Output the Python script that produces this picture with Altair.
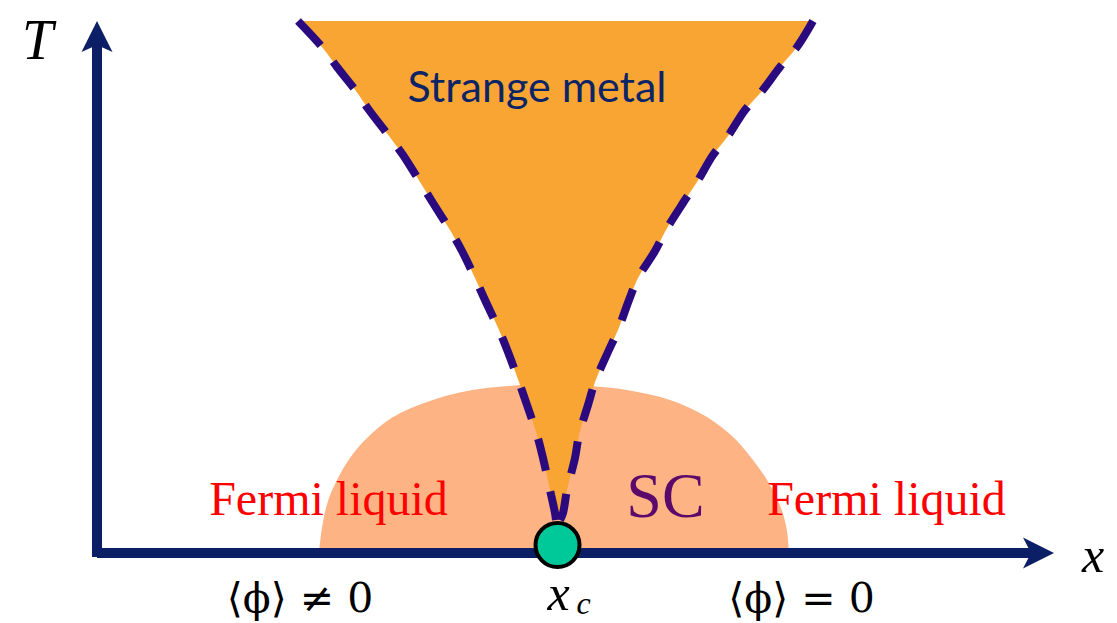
import altair as alt
import pandas as pd

# Schematic phase diagram, arbitrary units: x = tuning parameter, T = temperature
# Strange-metal fan: boundaries at common temperature levels
fan_T = [532, 506, 486, 462, 443, 417, 398, 371, 350, 323, 302, 275, 253, 223, 201, 171, 148, 118, 95, 63, 40, 33]
fan_left = [201, 225, 240, 259, 272, 292, 306, 323, 336, 353, 365, 378, 388, 402, 411, 422, 430, 440, 446, 453, 458, 459]
fan_right = [716, 700, 683, 665, 648, 631, 616, 600, 586, 569, 558, 541, 532, 521, 511, 498, 491, 482, 478, 470, 466, 463]

# Superconducting dome
dome_x = [222, 225, 231, 240, 253, 270, 296, 330, 370, 423, 458, 493, 530, 573, 610, 636, 652, 670, 684, 690, 692]
dome_T = [0, 25, 52, 73, 95, 115, 136, 151, 162, 168, 169, 167, 163, 153, 136, 116, 98, 73, 45, 22, 0]

# Quantum critical point
qcp_x = [460.5]
qcp_T = [8]

# Axes (shafts and arrow heads)
t_axis_x = [0, 0]
t_axis_T = [-4, 508]
x_axis_x = [0, 936]
x_axis_T = [0, 0]
up_head_x = [-15.5, 0, 15.5]
up_head_top = [501, 532, 501]
up_head_bottom = [501, 508, 501]
right_head_T = [-15.5, 0, 15.5]
right_head_tip = [926, 957, 926]
right_head_notch = [926, 934, 926]

X_DOMAIN = [-89, 1012]
T_DOMAIN = [-70, 545]

NAVY = "#0c1f66"
ORANGE = "#f9a533"
SALMON = "#fdb383"
DASH = "#2b0a80"


def xs(field, **kw):
    return alt.X(field, type="quantitative", scale=alt.Scale(domain=X_DOMAIN, nice=False, zero=False), axis=None, **kw)


def ys(field, **kw):
    return alt.Y(field, type="quantitative", scale=alt.Scale(domain=T_DOMAIN, nice=False, zero=False), axis=None, **kw)


fan_df = pd.DataFrame({"T": fan_T, "left": fan_left, "right": fan_right})
dome_df = pd.DataFrame({"x": dome_x, "T": dome_T})

dash_rows = []
for side, vals in (("left", fan_left), ("right", fan_right)):
    for i, (xv, tv) in enumerate(zip(vals, fan_T)):
        dash_rows.append({"side": side, "i": i, "x": xv, "T": tv})
dash_df = pd.DataFrame(dash_rows)

dome = alt.Chart(dome_df).mark_area(color=SALMON, interpolate="catmull-rom").encode(
    x=xs("x"), y=ys("T"), y2=alt.Y2(datum=0)
)

fan = alt.Chart(fan_df).mark_area(color=ORANGE, orient="horizontal", interpolate="monotone").encode(
    y=ys("T"), x=xs("left"), x2=alt.X2("right")
)

dashes = alt.Chart(dash_df).mark_line(
    color=DASH, strokeWidth=8, strokeDash=[33, 21], interpolate="catmull-rom", strokeCap="butt"
).encode(x=xs("x"), y=ys("T"), detail="side:N", order="i:Q")

t_axis = alt.Chart(pd.DataFrame({"x": t_axis_x[:1], "T": t_axis_T[:1], "T2": t_axis_T[1:]})).mark_rule(
    color=NAVY, strokeWidth=10
).encode(x=xs("x"), y=ys("T"), y2="T2")

x_axis = alt.Chart(pd.DataFrame({"x": x_axis_x[:1], "x2": x_axis_x[1:], "T": x_axis_T[:1]})).mark_rule(
    color=NAVY, strokeWidth=10
).encode(x=xs("x"), x2="x2", y=ys("T"))

up_head = alt.Chart(pd.DataFrame({"x": up_head_x, "top": up_head_top, "bottom": up_head_bottom})).mark_area(
    color=NAVY
).encode(x=xs("x"), y=ys("top"), y2="bottom")

right_head = alt.Chart(pd.DataFrame({"T": right_head_T, "tip": right_head_tip, "notch": right_head_notch})).mark_area(
    color=NAVY, orient="horizontal"
).encode(y=ys("T"), x=xs("notch"), x2="tip")

qcp = alt.Chart(pd.DataFrame({"x": qcp_x, "T": qcp_T})).mark_point(
    shape="circle", filled=True, fill="#00c999", stroke="black", strokeWidth=4, size=1936, opacity=1
).encode(x=xs("x"), y=ys("T"))

# Labels
label_text = ["Strange metal", "Fermi liquid", "Fermi liquid", "SC", "T", "x", "x", "c", "⟨ϕ⟩ ≠ 0", "⟨ϕ⟩ = 0"]
label_x = [440, 231.5, 789.5, 568.5, -59.5, 996, 461.5, 486.5, 203, 704.5]
label_T = [451, 38, 38, 36, 494, -19, -57, -61, -59, -59]
label_style = ["sans", "fl", "fl", "sc", "bigmath", "math", "math", "sub", "math2", "math2"]

styles = {
    "sans": dict(font="Lato", fontSize=43, color="#0b2466"),
    "fl": dict(font="Liberation Serif", fontSize=48, color="#ff0000"),
    "sc": dict(font="Liberation Serif", fontSize=64, color="#5b0a6b"),
    "bigmath": dict(font="Liberation Serif", fontSize=56, fontStyle="italic", color="black"),
    "math": dict(font="Liberation Serif", fontSize=50, fontStyle="italic", color="black"),
    "sub": dict(font="Liberation Serif", fontSize=32, fontStyle="italic", color="black"),
    "math2": dict(font="DejaVu Serif", fontSize=41, color="black"),
}

labels_df = pd.DataFrame({"text": label_text, "x": label_x, "T": label_T, "style": label_style})

text_layers = []
for st, props in styles.items():
    sub = labels_df[labels_df["style"] == st]
    text_layers.append(
        alt.Chart(sub).mark_text(align="center", baseline="alphabetic", **props).encode(
            x=xs("x"), y=ys("T"), text="text:N"
        )
    )

chart = alt.layer(dome, fan, dashes, t_axis, x_axis, up_head, right_head, qcp, *text_layers).properties(
    width=1101, height=615, padding=0, autosize=alt.AutoSizeParams(type="none")
).configure_view(stroke=None)

chart.save("out.html", embed_options={"renderer": "svg", "actions": False})
